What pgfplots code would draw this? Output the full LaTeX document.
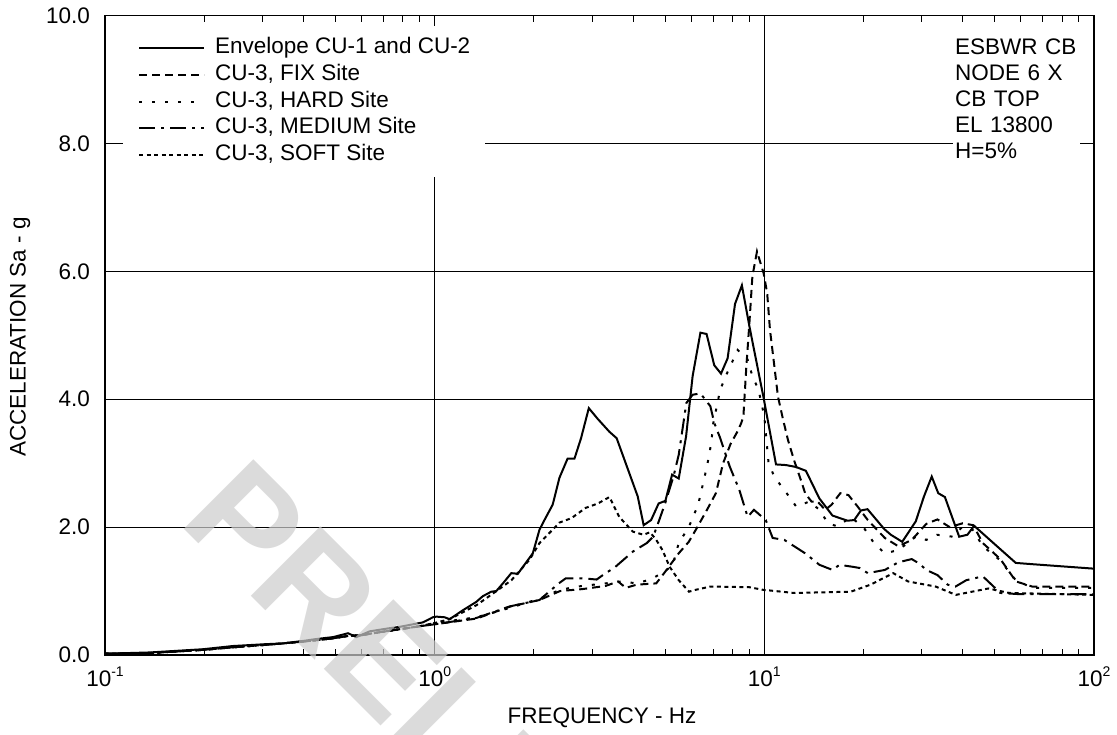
\documentclass[border=0pt]{standalone}
\usepackage{pgfplots}
\pgfplotsset{compat=1.18}
\usepackage{fontspec}
\setmainfont{Liberation Sans}
\newcommand\lbl{\fontsize{22.5}{25.8}\selectfont}
\newcommand\supx[1]{\raisebox{0.42em}{\fontsize{14}{14}\selectfont #1}}
\begin{document}
\begin{tikzpicture}[x=1pt,y=1pt]
\begin{axis}[
  at={(105pt,79pt)}, anchor=south west,
  scale only axis, width=989pt, height=639.5pt,
  xmode=log, xmin=0.1, xmax=100, ymin=0, ymax=10,
  xtick={0.1,1,10,100},
  xticklabels={10\supx{-1},10\supx{0},10\supx{1},10\supx{2}},
  ytick={0,2,4,6,8,10},
  yticklabels={0.0,2.0,4.0,6.0,8.0,10.0},
  ticklabel style={font=\lbl},
  xticklabel style={inner ysep=0pt, yshift=-12pt},
  yticklabel style={inner xsep=0pt, xshift=-15pt},
  major tick length=0pt, minor tick length=6.5pt, tick align=inside,
  tick style={line width=0.9pt, black},
  axis line style={line width=1.5pt},
  grid=major, major grid style={line width=0.9pt, black},
  legend image code/.code={\draw[#1] (0pt,0pt) -- (65pt,0pt);},
  legend cell align=left,
  legend style={at={(rel axis cs:0.0182,0.9836)}, anchor=north west,
    draw=none, fill=white, font=\lbl, inner xsep=15pt, inner ysep=11.5pt,
    row sep=5.7pt, column sep=10pt,
    nodes={inner sep=0pt, text height=16pt, text depth=5pt}},
  every axis plot/.append style={line width=2pt, black, line cap=butt, line join=miter},
]
\addplot[solid] coordinates {(0.1,0.02) (0.137,0.04) (0.198,0.09) (0.244,0.14) (0.309,0.17) (0.346,0.18) (0.399,0.22) (0.438,0.25) (0.492,0.28) (0.546,0.34) (0.579,0.28) (0.635,0.37) (0.731,0.42) (0.783,0.44) (0.921,0.51) (0.988,0.59) (1.012,0.60) (1.072,0.59) (1.11,0.56) (1.218,0.70) (1.337,0.83) (1.40,0.92) (1.485,0.99) (1.538,1.00) (1.611,1.12) (1.708,1.28) (1.788,1.27) (1.985,1.59) (2.08,1.96) (2.153,2.11) (2.28,2.35) (2.39,2.77) (2.53,3.07) (2.655,3.07) (2.78,3.39) (2.935,3.86) (3.126,3.69) (3.39,3.49) (3.565,3.39) (4.13,2.48) (4.305,2.03) (4.535,2.11) (4.78,2.37) (5.01,2.41) (5.25,2.82) (5.50,2.76) (5.79,3.42) (6.06,4.36) (6.40,5.04) (6.68,5.02) (7.05,4.53) (7.39,4.40) (7.74,4.64) (8.15,5.49) (8.55,5.78) (9.01,5.14) (9.95,4.02) (10.85,2.98) (11.63,2.97) (12.48,2.94) (13.37,2.88) (14.68,2.45) (16.1,2.18) (17.87,2.10) (18.74,2.11) (19.63,2.26) (20.56,2.28) (23.1,1.97) (24.2,1.88) (26.2,1.77) (28.8,2.09) (30.5,2.48) (32.2,2.79) (33.7,2.53) (35.3,2.47) (39.0,1.85) (41.3,1.88) (43.3,2.02) (50.3,1.72) (57.9,1.44) (65.0,1.42) (100,1.35)};
\addlegendentry{Envelope CU-1 and CU-2}
\addplot[dash pattern=on 8pt off 5pt] coordinates {(0.1,0.02) (0.137,0.03) (0.198,0.08) (0.244,0.12) (0.309,0.16) (0.4,0.21) (0.49,0.26) (0.55,0.30) (0.6,0.31) (0.65,0.34) (0.73,0.38) (0.8,0.41) (0.9,0.45) (1.0,0.48) (1.34,0.57) (1.7,0.76) (2.08,0.86) (2.4,1.00) (2.8,1.03) (3.3,1.08) (3.6,1.15) (3.8,1.05) (4.1,1.10) (4.7,1.12) (5.0,1.30) (5.5,1.59) (5.9,1.77) (6.2,1.96) (6.7,2.27) (7.13,2.53) (7.5,3.0) (7.9,3.30) (8.3,3.50) (8.5,3.62) (8.64,3.73) (8.82,4.51) (9.01,5.19) (9.2,5.92) (9.5,6.31) (9.95,5.97) (10.2,5.66) (10.4,5.09) (10.7,4.56) (11.0,4.04) (11.4,3.68) (11.8,3.36) (12.3,3.05) (12.9,2.74) (13.3,2.53) (13.9,2.40) (14.5,2.40) (15.3,2.27) (16.0,2.35) (17.0,2.53) (18.0,2.50) (19.2,2.32) (20.6,2.11) (23.2,1.83) (25.5,1.70) (28.0,1.80) (31.0,2.05) (33.5,2.12) (36.5,2.00) (40.0,2.06) (43,2.03) (46,1.75) (52,1.50) (58,1.15) (65,1.07) (100,1.07)};
\addlegendentry{CU-3, FIX Site}
\addplot[dash pattern=on 3pt off 10pt] coordinates {(0.1,0.02) (0.137,0.03) (0.198,0.08) (0.244,0.12) (0.309,0.16) (0.4,0.21) (0.49,0.26) (0.55,0.30) (0.6,0.31) (0.65,0.34) (0.73,0.38) (0.8,0.41) (0.9,0.45) (1.0,0.50) (1.34,0.59) (1.7,0.74) (2.08,0.88) (2.4,1.02) (2.8,1.08) (3.3,1.12) (3.7,1.15) (4.1,1.12) (4.5,1.18) (4.9,1.28) (5.27,1.40) (5.5,1.75) (5.9,2.0) (6.3,2.35) (6.7,2.95) (6.9,3.31) (7.0,3.62) (7.35,4.15) (7.7,4.40) (8.3,4.77) (8.9,4.62) (9.2,4.36) (9.6,4.15) (10.0,3.73) (10.3,3.0) (10.7,2.8) (11.0,2.71) (11.8,2.50) (12.5,2.32) (13.7,2.40) (14.7,2.27) (15.6,2.06) (16.7,2.01) (18.3,2.16) (20.1,1.98) (21.5,1.75) (23.2,1.59) (25.5,1.64) (28.8,1.85) (31,1.80) (33.4,1.88) (37.3,1.85) (40,2.01) (43,1.95) (46,1.70) (51.7,1.49) (57.9,1.17) (65,1.05) (100,1.05)};
\addlegendentry{CU-3, HARD Site}
\addplot[dash pattern=on 16pt off 6pt on 3pt off 6pt] coordinates {(0.1,0.02) (0.137,0.03) (0.198,0.08) (0.244,0.12) (0.309,0.16) (0.4,0.21) (0.49,0.26) (0.55,0.30) (0.6,0.31) (0.65,0.34) (0.73,0.38) (0.8,0.41) (0.9,0.45) (1.0,0.48) (1.34,0.58) (1.69,0.76) (2.08,0.86) (2.38,1.12) (2.5,1.20) (2.8,1.20) (3.1,1.18) (3.3,1.28) (3.5,1.36) (4.0,1.62) (4.4,1.75) (4.6,1.85) (4.8,2.11) (5.0,2.37) (5.3,2.79) (5.5,3.13) (5.8,3.94) (6.06,4.07) (6.4,4.09) (6.86,3.89) (7.05,3.63) (7.35,3.39) (7.85,2.95) (8.4,2.58) (8.9,2.16) (9.3,2.27) (10.1,2.11) (10.6,1.83) (11.5,1.80) (13.3,1.59) (14.7,1.41) (16.1,1.33) (16.9,1.41) (18.5,1.38) (19.5,1.36) (20.6,1.28) (23.2,1.33) (25.5,1.45) (28,1.50) (29.5,1.43) (31,1.33) (33.5,1.25) (36,1.10) (38,1.07) (41,1.17) (46,1.23) (52,0.97) (60,0.95) (100,0.95)};
\addlegendentry{CU-3, MEDIUM Site}
\addplot[dash pattern=on 4pt off 3.5pt] coordinates {(0.1,0.02) (0.137,0.03) (0.198,0.08) (0.244,0.12) (0.309,0.16) (0.4,0.21) (0.49,0.26) (0.55,0.30) (0.6,0.31) (0.65,0.34) (0.73,0.38) (0.8,0.41) (0.9,0.45) (1.0,0.50) (1.11,0.56) (1.34,0.78) (1.54,1.00) (1.71,1.17) (1.94,1.49) (2.08,1.75) (2.28,1.96) (2.39,2.07) (2.6,2.14) (2.87,2.30) (3.13,2.37) (3.39,2.47) (3.63,2.16) (3.99,1.93) (4.3,1.88) (4.5,1.92) (4.7,1.80) (4.91,1.64) (5.16,1.38) (5.5,1.17) (5.91,0.99) (6.2,1.02) (6.86,1.07) (9.0,1.06) (9.9,1.02) (12.3,0.97) (18.3,0.99) (21,1.10) (24.6,1.28) (27.3,1.15) (33.1,1.07) (38.1,0.94) (47.8,1.04) (55.3,0.97) (100,0.94)};
\addlegendentry{CU-3, SOFT Site}
\end{axis}
\node[fill=white, anchor=north west, inner xsep=2pt, inner ysep=9pt, text width=123pt, align=left, font=\lbl] at (953,704) {ESBWR CB\\NODE 6 X\\CB TOP\\EL 13800\\H=5\%};
\node[rotate=90, font=\lbl] at (20,397) {ACCELERATION Sa - g};
\node[font=\lbl] at (602,16) {FREQUENCY - Hz};
\begin{scope}
\clip (0,0) rectangle (1117,734);
\node[rotate=-45, anchor=base west, inner sep=0pt, text=black!20, opacity=0.7, font=\fontsize{143}{146}\selectfont\bfseries] at (177.3,211.7) {PRELIMINARY};
\end{scope}
\pgfresetboundingbox
\path[use as bounding box] (0,0) rectangle (1117,734);
\end{tikzpicture}
\end{document}
